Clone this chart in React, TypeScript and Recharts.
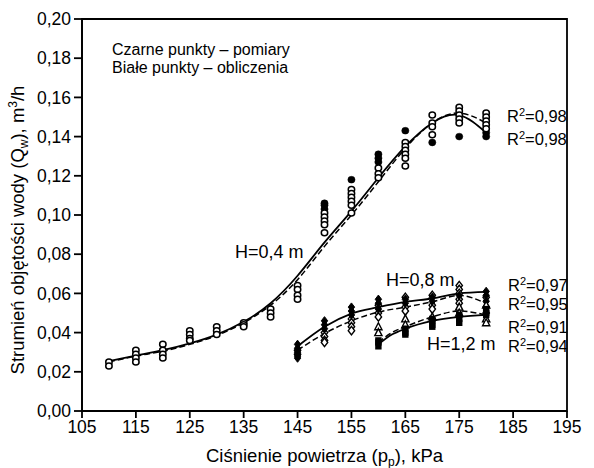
import React from 'react';
import { ComposedChart, XAxis, YAxis, Line, Scatter, ReferenceArea } from 'recharts';

const xTicks = [105, 115, 125, 135, 145, 155, 165, 175, 185, 195];
const yTicks = [0, 0.02, 0.04, 0.06, 0.08, 0.1, 0.12, 0.14, 0.16, 0.18, 0.2];

// H = 0.4 m  (x, values read at that pressure)
const h04Open: [number, number[]][] = [
  [110, [0.025, 0.023]],
  [115, [0.031, 0.029, 0.027, 0.025]],
  [120, [0.034, 0.031, 0.029, 0.027]],
  [125, [0.041, 0.039, 0.037, 0.036]],
  [130, [0.043, 0.041, 0.039]],
  [135, [0.045, 0.044, 0.043]],
  [140, [0.052, 0.05, 0.048]],
  [145, [0.064, 0.062, 0.059, 0.057]],
  [150, [0.101, 0.099, 0.097, 0.095, 0.091]],
  [155, [0.113, 0.111, 0.109, 0.107, 0.105, 0.101]],
  [160, [0.124, 0.121, 0.119]],
  [165, [0.137, 0.135, 0.133, 0.131, 0.129, 0.125]],
  [170, [0.151, 0.147, 0.145, 0.141]],
  [175, [0.155, 0.153, 0.151, 0.149, 0.147]],
  [180, [0.152, 0.15, 0.148, 0.146, 0.144]],
];
const h04Filled: [number, number[]][] = [
  [150, [0.106, 0.105, 0.103]],
  [155, [0.118]],
  [160, [0.131, 0.129, 0.127]],
  [165, [0.143]],
  [170, [0.137]],
  [175, [0.14]],
  [180, [0.142, 0.14]],
];

// H = 0.8 m
const h08Filled: [number, number[]][] = [
  [145, [0.034, 0.032, 0.03, 0.028, 0.027]],
  [150, [0.046, 0.044, 0.042]],
  [155, [0.053, 0.051, 0.049]],
  [160, [0.057, 0.055, 0.052]],
  [165, [0.057, 0.055]],
  [170, [0.058, 0.056]],
  [175, [0.059]],
  [180, [0.061, 0.059, 0.056]],
];
const h08Open: [number, number[]][] = [
  [145, [0.031, 0.029]],
  [150, [0.04, 0.038, 0.036, 0.035]],
  [155, [0.047, 0.045, 0.043, 0.041]],
  [160, [0.054, 0.05, 0.048]],
  [165, [0.058, 0.053, 0.051]],
  [170, [0.059, 0.054, 0.052]],
  [175, [0.064, 0.062, 0.06, 0.057, 0.055]],
  [180, [0.058, 0.053, 0.05]],
];

// H = 1.2 m
const h12Open: [number, number[]][] = [
  [160, [0.043, 0.04]],
  [165, [0.047, 0.044]],
  [170, [0.048]],
  [175, [0.053, 0.05]],
  [180, [0.054, 0.047, 0.045]],
];
const h12Filled: [number, number[]][] = [
  [160, [0.036, 0.035, 0.033]],
  [165, [0.042, 0.04, 0.039]],
  [170, [0.047, 0.046, 0.044, 0.043]],
  [175, [0.049, 0.047, 0.045]],
  [180, [0.052, 0.05, 0.049]],
];

// fitted curves
const fit04X = [110, 115, 120, 125, 130, 135, 140, 145, 150, 155, 160, 165, 170, 175, 180];
const fit04Solid = [0.0255, 0.0283, 0.031, 0.0345, 0.039, 0.0455, 0.055, 0.069, 0.086, 0.102, 0.119, 0.135, 0.147, 0.151, 0.142];
const fit04Dashed = [0.025, 0.028, 0.0305, 0.034, 0.0385, 0.045, 0.054, 0.067, 0.084, 0.1, 0.117, 0.134, 0.147, 0.152, 0.147];
const fit08X = [145, 150, 155, 160, 165, 170, 175, 180];
const fit08Solid = [0.033, 0.043, 0.0497, 0.053, 0.0557, 0.0574, 0.06, 0.0608];
const fit08Dashed = [0.031, 0.0395, 0.046, 0.0505, 0.053, 0.0557, 0.059, 0.0548];
const fit12X = [160, 162.5, 165, 170, 175, 180];
const fit12Solid = [0.034, 0.039, 0.042, 0.046, 0.048, 0.049];
const fit12Dashed = [0.035, 0.04, 0.043, 0.048, 0.051, 0.049];

const flat = (g: [number, number[]][]) => g.flatMap(([x, ys]) => ys.map((y) => ({ x, y })));
const curve = (xs: number[], ys: number[]) => xs.map((x, i) => ({ x, y: ys[i] }));

const FONT = '"Liberation Sans", Arial, sans-serif';

const OpenCircle = (p: any) => <ellipse cx={p.cx} cy={p.cy} rx={3.2} ry={3} fill="#fff" stroke="#000" strokeWidth={1.5} />;
const FilledCircle = (p: any) => <ellipse cx={p.cx} cy={p.cy} rx={3.6} ry={3.4} fill="#000" stroke="#000" strokeWidth={0.5} />;
const diamondPath = (cx: number, cy: number) => `M${cx},${cy - 4.2}L${cx + 3.2},${cy}L${cx},${cy + 4.2}L${cx - 3.2},${cy}Z`;
const OpenDiamond = (p: any) => <path d={diamondPath(p.cx, p.cy)} fill="#fff" stroke="#000" strokeWidth={1.4} />;
const FilledDiamond = (p: any) => <path d={diamondPath(p.cx, p.cy)} fill="#000" stroke="#000" strokeWidth={1} />;
const OpenTriangle = (p: any) => (
  <path d={`M${p.cx},${p.cy - 4}L${p.cx + 3.6},${p.cy + 3}L${p.cx - 3.6},${p.cy + 3}Z`} fill="#fff" stroke="#000" strokeWidth={1.4} />
);
const FilledSquare = (p: any) => <rect x={p.cx - 3.2} y={p.cy - 3.2} width={6.4} height={6.4} fill="#000" />;

const fmtY = (v: number) => v.toFixed(2).replace('.', ',');

const R2 = ({ x, y, v }: { x: number; y: number; v: string }) => (
  <text x={x} y={y} fontSize={16.5}>
    R<tspan dy={-6} fontSize={11}>2</tspan>
    <tspan dy={6}>={v}</tspan>
  </text>
);

export default function App() {
  return (
    <div style={{ position: 'fixed', left: 0, top: 0, width: 594, height: 468, background: '#fff' }}>
      <ComposedChart width={594} height={468} margin={{ top: 19, right: 27, left: 0, bottom: 0 }}>
        <XAxis
          dataKey="x"
          type="number"
          domain={[105, 195]}
          ticks={xTicks}
          allowDataOverflow
          height={57}
          tickSize={7}
          tickMargin={3}
          stroke="#000"
          strokeWidth={1.8}
          tick={{ fill: '#000', fontSize: 17.5, fontFamily: FONT }}
        />
        <YAxis
          dataKey="y"
          type="number"
          domain={[0, 0.2]}
          ticks={yTicks}
          allowDataOverflow
          width={82}
          tickSize={8}
          tickMargin={3}
          tickFormatter={fmtY}
          stroke="#000"
          strokeWidth={1.8}
          tick={{ fill: '#000', fontSize: 17.5, fontFamily: FONT }}
        />
        <ReferenceArea x1={105} x2={195} y1={0} y2={0.2} fill="none" stroke="#000" strokeWidth={1.8} ifOverflow="visible" />
        <Line data={curve(fit04X, fit04Solid)} dataKey="y" type="natural" stroke="#000" strokeWidth={1.8} dot={false} activeDot={false} isAnimationActive={false} />
        <Line data={curve(fit04X, fit04Dashed)} dataKey="y" type="natural" stroke="#000" strokeWidth={1.5} strokeDasharray="6 3" dot={false} activeDot={false} isAnimationActive={false} />
        <Line data={curve(fit08X, fit08Solid)} dataKey="y" type="monotone" stroke="#000" strokeWidth={1.8} dot={false} activeDot={false} isAnimationActive={false} />
        <Line data={curve(fit08X, fit08Dashed)} dataKey="y" type="monotone" stroke="#000" strokeWidth={1.5} strokeDasharray="6 3" dot={false} activeDot={false} isAnimationActive={false} />
        <Line data={curve(fit12X, fit12Solid)} dataKey="y" type="monotone" stroke="#000" strokeWidth={1.8} dot={false} activeDot={false} isAnimationActive={false} />
        <Line data={curve(fit12X, fit12Dashed)} dataKey="y" type="monotone" stroke="#000" strokeWidth={1.5} strokeDasharray="6 3" dot={false} activeDot={false} isAnimationActive={false} />
        <Scatter data={flat(h04Filled)} shape={FilledCircle} isAnimationActive={false} />
        <Scatter data={flat(h04Open)} shape={OpenCircle} isAnimationActive={false} />
        <Scatter data={flat(h08Open)} shape={OpenDiamond} isAnimationActive={false} />
        <Scatter data={flat(h08Filled)} shape={FilledDiamond} isAnimationActive={false} />
        <Scatter data={flat(h12Open)} shape={OpenTriangle} isAnimationActive={false} />
        <Scatter data={flat(h12Filled)} shape={FilledSquare} isAnimationActive={false} />
      </ComposedChart>
      <svg width={594} height={468} style={{ position: 'absolute', left: 0, top: 0, pointerEvents: 'none' }} fontFamily={FONT} fill="#000">
        <text x={112} y={55} fontSize={16}>Czarne punkty – pomiary</text>
        <text x={112} y={73} fontSize={16}>Białe punkty – obliczenia</text>
        <text x={235} y={258} fontSize={18}>H=0,4 m</text>
        <text x={386} y={286} fontSize={18}>H=0,8 m</text>
        <text x={427} y={350} fontSize={18}>H=1,2 m</text>
        <R2 x={507} y={122} v="0,98" />
        <R2 x={507} y={145} v="0,98" />
        <R2 x={508} y={291} v="0,97" />
        <R2 x={508} y={310} v="0,95" />
        <R2 x={508} y={333} v="0,91" />
        <R2 x={508} y={352} v="0,94" />
        <text x={324.5} y={462} fontSize={18.5} textAnchor="middle">
          Ciśnienie powietrza (p<tspan dy={4} fontSize={12}>p</tspan><tspan dy={-4}>), kPa</tspan>
        </text>
        <text transform="translate(24,230) rotate(-90)" fontSize={18.5} textAnchor="middle">
          Strumień objętości wody (Q<tspan dy={4} fontSize={12}>w</tspan><tspan dy={-4}>), m</tspan><tspan dy={-7} fontSize={12}>3</tspan><tspan dy={7}>/h</tspan>
        </text>
      </svg>
    </div>
  );
}
